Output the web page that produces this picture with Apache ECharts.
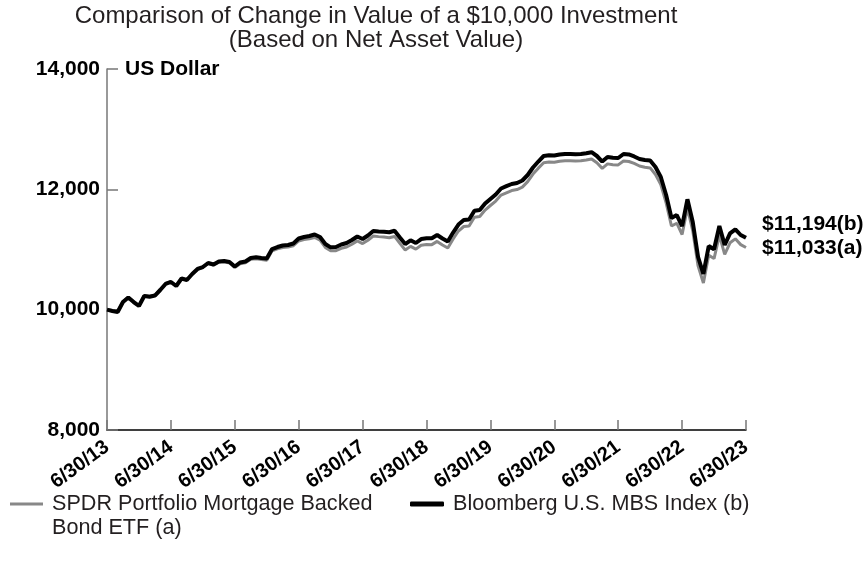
<!DOCTYPE html>
<html>
<head>
<meta charset="utf-8">
<script src="https://cdn.jsdelivr.net/npm/echarts@6/dist/echarts.min.js"></script>
<style>
html,body{margin:0;padding:0;background:#fff;}
#chart{width:866px;height:567px;}
</style>
</head>
<body>
<div id="chart"></div>
<script>
// Year-end tick labels (one every 12 months)
var tickLabels = ['6/30/13','6/30/14','6/30/15','6/30/16','6/30/17','6/30/18','6/30/19','6/30/20','6/30/21','6/30/22','6/30/23'];

// Monthly growth of $10,000, 6/30/13 .. 6/30/23 (121 month-ends)
var etfValues = [
 10000, 9986, 9969, 10135, 10210, 10135, 10069, 10235, 10223, 10243,
 10335, 10435, 10466, 10398, 10521, 10493, 10591, 10672, 10703, 10768,
 10741, 10788, 10795, 10776, 10699, 10764, 10778, 10836, 10845, 10833,
 10823, 10979, 11010, 11033, 11040, 11063, 11142, 11164, 11177, 11199,
 11155, 11035, 10978, 10980, 11019, 11041, 11088, 11143, 11098, 11154,
 11224, 11214, 11206, 11195, 11217, 11102, 10991, 11052, 11006, 11071,
 11082, 11081, 11135, 11076, 11025, 11174, 11307, 11382, 11390, 11537,
 11548, 11656, 11731, 11805, 11905, 11943, 11980, 11996, 12037, 12128,
 12253, 12352, 12443, 12454, 12450, 12468, 12476, 12475, 12472, 12474,
 12487, 12504, 12441, 12348, 12423, 12410, 12406, 12472, 12463, 12430,
 12388, 12367, 12356, 12246, 12078, 11776, 11390, 11437, 11249, 11690,
 11311, 10727, 10443, 10906, 10849, 11234, 10918, 11111, 11177, 11081,
 11033
];
var indexValues = [
 10000, 9978, 9961, 10127, 10202, 10127, 10061, 10227, 10215, 10235,
 10327, 10427, 10460, 10393, 10518, 10493, 10593, 10676, 10709, 10776,
 10751, 10800, 10809, 10792, 10717, 10784, 10800, 10859, 10870, 10859,
 10850, 11008, 11041, 11066, 11075, 11100, 11183, 11208, 11224, 11249,
 11208, 11091, 11036, 11041, 11083, 11108, 11158, 11216, 11174, 11233,
 11307, 11299, 11294, 11286, 11311, 11199, 11091, 11153, 11108, 11174,
 11186, 11186, 11241, 11183, 11133, 11282, 11415, 11490, 11498, 11645,
 11656, 11764, 11839, 11914, 12014, 12052, 12089, 12105, 12147, 12238,
 12363, 12462, 12554, 12565, 12561, 12579, 12587, 12587, 12584, 12587,
 12600, 12617, 12554, 12462, 12537, 12524, 12521, 12587, 12579, 12546,
 12504, 12487, 12479, 12371, 12205, 11906, 11523, 11573, 11390, 11834,
 11457, 10875, 10593, 11058, 11003, 11390, 11075, 11269, 11336, 11241,
 11194
];

var etfName = 'SPDR Portfolio Mortgage Backed Bond ETF (a)';
var idxName = 'Bloomberg U.S. MBS Index (b)';

function toPairs(arr){ return arr.map(function(v,i){ return [i, v]; }); }
function fmt(n){ return String(n).replace(/\B(?=(\d{3})+(?!\d))/g, ','); }

var FONT = '"Liberation Sans", Arial, Helvetica, sans-serif';
var chart = echarts.init(document.getElementById('chart'), null, {renderer:'canvas'});

chart.setOption({
  animation: false,
  backgroundColor: '#fff',
  textStyle: {fontFamily: FONT},
  title: [{
    text: 'Comparison of Change in Value of a $10,000 Investment\n(Based on Net Asset Value)',
    left: 376, top: 4, padding: 0, textAlign: 'center',
    textStyle: {fontFamily: FONT, fontSize: 24, fontWeight: 'normal', color: '#231f20', lineHeight: 24}
  },{
    text: 'US Dollar',
    left: 125, top: 59, padding: 0,
    textStyle: {fontFamily: FONT, fontSize: 21, fontWeight: 'bold', color: '#000'}
  }],
  grid: {left: 107, right: 120, top: 69, bottom: 137, containLabel: false},
  xAxis: {
    type: 'value', min: 0, max: 120, interval: 12,
    axisLine: {show: true, lineStyle: {color: '#000', width: 1.5}},
    axisTick: {show: true, inside: true, length: 10, lineStyle: {color: '#777', width: 1.5}},
    splitLine: {show: false},
    axisLabel: {
      rotate: 36, margin: 15, color: '#000', fontFamily: FONT, fontSize: 20, fontWeight: 'bold',
      formatter: function(v){ return tickLabels[Math.round(v/12)] || ''; }
    }
  },
  yAxis: {
    type: 'value', min: 8000, max: 14000, interval: 2000,
    axisLine: {show: true, lineStyle: {color: '#777', width: 1.5}},
    axisTick: {show: true, inside: true, length: 11, lineStyle: {color: '#777', width: 1.5}},
    splitLine: {show: false},
    axisLabel: {margin: 7, color: '#000', fontFamily: FONT, fontSize: 21, fontWeight: 'bold',
      formatter: function(v){ return fmt(v); }}
  },
  legend: [{
    left: 10, top: 468, padding: 0,
    data: [{name: etfName, icon: 'rect'}],
    itemWidth: 33, itemHeight: 3, itemGap: 0,
    formatter: function(){ return '\nSPDR Portfolio Mortgage Backed\nBond ETF (a)'; },
    textStyle: {fontFamily: FONT, fontSize: 21.6, color: '#231f20', lineHeight: 24, padding: [0,0,0,4]}
  },{
    left: 410, top: 492, padding: 0,
    data: [{name: idxName, icon: 'roundRect'}],
    itemWidth: 34, itemHeight: 5,
    textStyle: {fontFamily: FONT, fontSize: 21.6, color: '#231f20', lineHeight: 24, padding: [0,0,0,4]}
  }],
  series: [{
    name: etfName, type: 'line', data: toPairs(etfValues), symbol: 'none',
    lineStyle: {color: '#888', width: 3}, itemStyle: {color: '#888'},
    endLabel: {show: true, distance: 16, offset: [0, 1],
      formatter: function(p){ return '$' + fmt(p.value[1]) + '(a)'; },
      fontFamily: FONT, fontSize: 21, fontWeight: 'bold', color: '#000'}
  },{
    name: idxName, type: 'line', data: toPairs(indexValues), symbol: 'none',
    lineStyle: {color: '#000', width: 4}, itemStyle: {color: '#000'},
    endLabel: {show: true, distance: 16, offset: [0, -14],
      formatter: function(p){ return '$' + fmt(p.value[1]) + '(b)'; },
      fontFamily: FONT, fontSize: 21, fontWeight: 'bold', color: '#000'}
  }]
});
</script>
</body>
</html>
